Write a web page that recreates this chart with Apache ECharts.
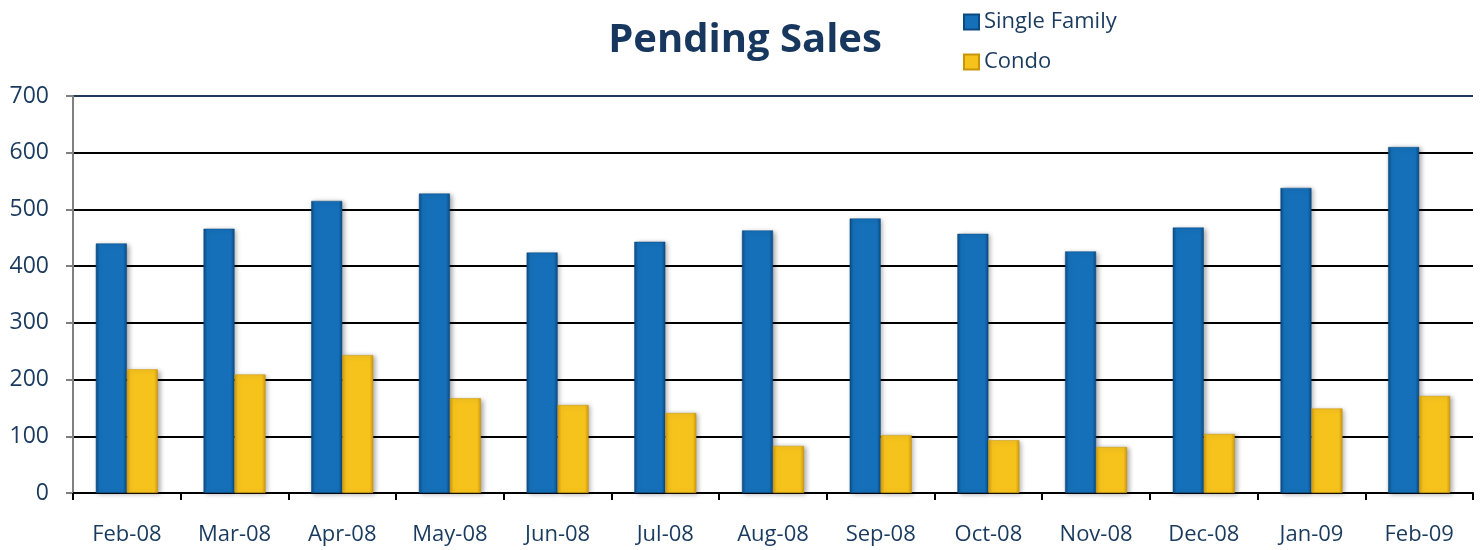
<!DOCTYPE html>
<html>
<head>
<meta charset="utf-8">
<script src="https://cdn.jsdelivr.net/npm/echarts@6/dist/echarts.min.js"></script>
<style>
  html, body { margin: 0; padding: 0; background: #fff; }
  #chart { width: 1482px; height: 550px; }
</style>
</head>
<body>
<div id="chart"></div>
<script>
const categories = ['Feb-08', 'Mar-08', 'Apr-08', 'May-08', 'Jun-08', 'Jul-08', 'Aug-08',
  'Sep-08', 'Oct-08', 'Nov-08', 'Dec-08', 'Jan-09', 'Feb-09']
const singleFamily = [440, 466, 515, 528, 424, 443, 463, 484, 457, 426, 468, 538, 610]
const condo = [218, 209, 243, 167, 155, 141, 83, 102, 93, 81, 104, 149, 171]

const font = '"Open Sans", "Noto Sans", sans-serif'
const navy = '#1a3a5e'

const barGradient = (edge, mid) => new echarts.graphic.LinearGradient(0, 0, 1, 0, [
  { offset: 0, color: edge },
  { offset: 0.12, color: mid },
  { offset: 0.88, color: mid },
  { offset: 1, color: edge }
])

const chart = echarts.init(document.getElementById('chart'))

const option = {
  animation: false,
  title: {
    text: 'Pending Sales',
    left: 740,
    top: 16,
    textAlign: 'center',
    textStyle: { fontFamily: font, fontSize: 40, fontWeight: 'bold', color: '#17375e' }
  },
  legend: {
    orient: 'vertical',
    left: 958,
    top: 2,
    itemWidth: 15,
    itemHeight: 15,
    itemGap: 10,
    icon: 'rect',
    textStyle: { fontFamily: font, fontSize: 22, color: navy, lineHeight: 30 },
    data: ['Single Family', 'Condo']
  },
  grid: { left: 73, right: 9, top: 96, bottom: 57 },
  xAxis: {
    type: 'category',
    data: categories,
    axisLine: { lineStyle: { color: '#000', width: 2 } },
    axisTick: { show: true, length: 7, lineStyle: { color: '#000', width: 2 } },
    axisLabel: { fontFamily: font, fontSize: 22, color: navy, margin: 31 }
  },
  yAxis: {
    type: 'value',
    min: 0,
    max: 700,
    interval: 100,
    axisLine: { show: true, lineStyle: { color: '#808080', width: 2 } },
    axisTick: { show: true, length: 7, lineStyle: { color: '#808080', width: 2 } },
    axisLabel: { fontFamily: font, fontSize: 23, color: navy, margin: 24 },
    splitLine: {
      lineStyle: {
        width: 2,
        color: ['#000', '#000', '#000', '#000', '#000', '#000', '#000', '#1f3b5c']
      }
    }
  },
  series: [
    {
      name: 'Single Family',
      type: 'bar',
      data: singleFamily,
      barWidth: 31,
      barGap: '0%',
      itemStyle: {
        color: barGradient('#0c4c86', '#1570b9'),
        borderColor: '#0b4a80',
        borderWidth: 0.5,
        shadowColor: 'rgba(0,0,0,0.35)',
        shadowBlur: 5,
        shadowOffsetX: 2,
        shadowOffsetY: 1
      }
    },
    {
      name: 'Condo',
      type: 'bar',
      data: condo,
      barWidth: 31,
      itemStyle: {
        color: barGradient('#d19b0c', '#f6c31d'),
        borderColor: '#c8940a',
        borderWidth: 0.5,
        shadowColor: 'rgba(0,0,0,0.35)',
        shadowBlur: 5,
        shadowOffsetX: 2,
        shadowOffsetY: 1
      }
    }
  ]
}

chart.setOption(option)
</script>
</body>
</html>
